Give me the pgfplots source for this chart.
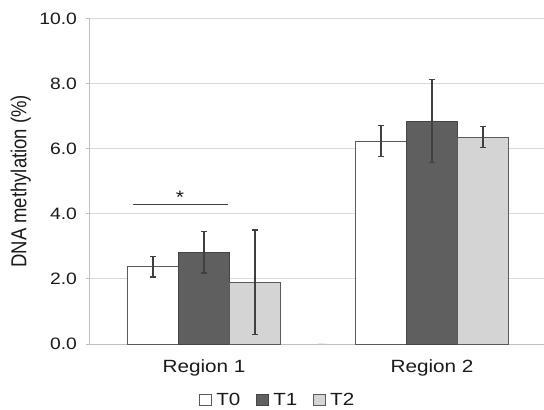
\documentclass[border=0pt]{standalone}
\usepackage{pgfplots}
\pgfplotsset{compat=1.18}
\usepackage{fontspec}
\setmainfont{Liberation Sans}[FakeStretch=1.17]
\newfontfamily\plainsans{Liberation Sans}
\definecolor{tone}{HTML}{5F5F5F}
\definecolor{ttwo}{HTML}{D4D4D4}
\definecolor{edge}{HTML}{5A5A5A}
\definecolor{gridc}{HTML}{D9D9D9}
\definecolor{axc}{HTML}{BFBFBF}
\definecolor{txt}{HTML}{1A1A1A}
\pgfplotsset{myerr/.style={error bars/.cd, y dir=both, y explicit,
    error bar style={line width=1.2pt, color=black!75},
    error mark options={rotate=90, mark size=3.2pt, line width=1.2pt, color=black!75}}}
\begin{document}
\begin{tikzpicture}
\begin{axis}[
  at={(0pt,0pt)}, anchor=south west,
  scale only axis, width=456pt, height=325.5pt,
  ybar=0pt, bar width=51pt,
  xmin=-0.5, xmax=1.5, ymin=0, ymax=10,
  xtick={0,1}, xticklabels={Region 1, Region 2},
  x tick style={draw=none},
  ytick={0,2,4,6,8,10},
  axis x line*=bottom, axis y line*=left,
  axis line style={axc, line width=1pt},
  tick align=outside, major tick length=4pt,
  y tick style={axc, line width=1pt},
  ymajorgrids, grid style={gridc, line width=1pt},
  /pgf/number format/assume math mode=true,
  yticklabel style={/pgf/number format/.cd, fixed, fixed zerofill, precision=1, /tikz/.cd,
    font=\fontsize{16.5}{18}\selectfont, text=txt, xshift=-5.5pt},
  xticklabel style={font=\fontsize{17.7}{20}\selectfont, text=txt, yshift=-8pt},
  ylabel={\scalebox{1}[1.17]{\plainsans\fontsize{18.5}{20}\selectfont DNA methylation (\%)}},
  ylabel style={at={(axis description cs:-0.152,0.5)}, anchor=center, text=txt},
  legend columns=3,
  legend style={at={(axis description cs:0.412,-0.172)}, anchor=center, draw=none, fill=none,
    font=\fontsize{17.6}{20}\selectfont, text=txt, inner sep=0pt,
    /tikz/every odd column/.append style={column sep=2pt},
    /tikz/every even column/.append style={column sep=14pt}},
  legend image code/.code={\draw[#1, line width=0.9pt] (0pt,-5.5pt) rectangle (12pt,5.5pt);},
]
\addplot[fill=white, draw=edge, line width=1pt, myerr] coordinates {(0,2.37) +- (0,0.31) (1,6.23) +- (0,0.48)};
\addplot[fill=tone, draw=edge!75!black, line width=1pt, myerr] coordinates {(0,2.82) +- (0,0.64) (1,6.85) +- (0,1.28)};
\addplot[fill=ttwo, draw=edge, line width=1pt, myerr] coordinates {(0,1.90) +- (0,1.60) (1,6.35) +- (0,0.32)};
\legend{T0, T1, T2}
\draw[black!75, line width=1.2pt] (axis cs:-0.311,4.28) -- (axis cs:0.105,4.28);
\node[anchor=south, inner sep=1pt, font=\fontsize{18}{18}\selectfont, text=txt] at (axis cs:-0.105,4.28) {*};
\draw[axc, line width=1pt] (axis cs:0.5,0) -- ++(0,-5pt);
\end{axis}
\pgfresetboundingbox
\path[use as bounding box] (-90pt,-66pt) rectangle (454pt,344pt);
\end{tikzpicture}
\end{document}
